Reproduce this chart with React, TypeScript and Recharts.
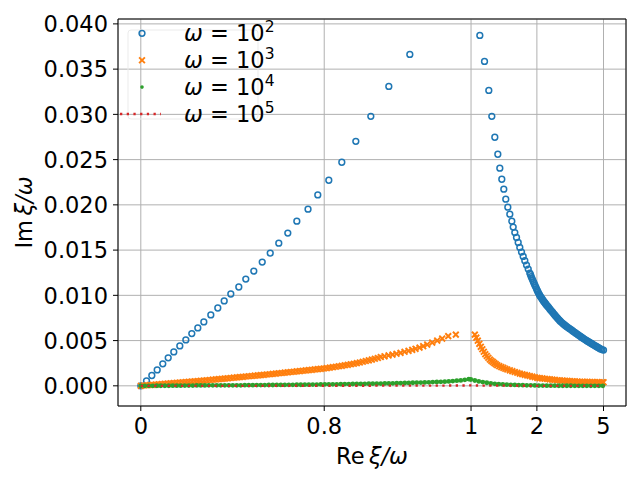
import {ComposedChart, CartesianGrid, ReferenceArea, Scatter, XAxis, YAxis} from 'recharts'

// x is the position along the (non-linear) Re ξ/ω axis: 0 → tick "0", 1 → tick "5"
const xTickPos = [0, 0.3964, 0.7137, 0.856, 1]
const xTickText = ['0', '0.8', '1', '2', '5']
const yTicks = [0, 0.005, 0.01, 0.015, 0.02, 0.025, 0.03, 0.035, 0.04]
const X_DOMAIN: [number, number] = [-0.0493, 1.0486]
const Y_DOMAIN: [number, number] = [-0.00223, 0.04054]

const seriesNames = ['2', '3', '4', '5'] // ω = 10^n

// ω = 10^2
const blueLeftX = [0, 0.0123, 0.0238, 0.0354, 0.0475, 0.0592, 0.0713, 0.0843, 0.0973, 0.1102, 0.1232, 0.1362, 0.1513, 0.1664, 0.1802, 0.1945,
    0.2118, 0.2269, 0.2442, 0.2624, 0.2797, 0.2982, 0.3177, 0.3372, 0.3614, 0.3825, 0.4063, 0.4344, 0.4647, 0.4971, 0.536, 0.5814]
const blueLeftY = [0, 0.00055, 0.00114, 0.00176, 0.00243, 0.00309, 0.00375, 0.00441, 0.00507, 0.00577, 0.0064, 0.00706, 0.00783, 0.0086, 0.00938, 0.01015,
    0.01092, 0.0118, 0.01268, 0.01368, 0.01467, 0.01577, 0.01688, 0.0182, 0.01952, 0.0211, 0.02272, 0.02471, 0.02702, 0.02978, 0.03309, 0.03662]
const blueRight: [number, number][] = [
    [0.7327, 0.03872], [0.7428, 0.03585], [0.7521, 0.03265], [0.7586, 0.02978], [0.7651, 0.02747], [0.7716, 0.02559], [0.7759, 0.02405],
    [0.7802, 0.02283], [0.7845, 0.02173], [0.7888, 0.02063], [0.7932, 0.01974], [0.7975, 0.01897], [0.8018, 0.0182], [0.8048, 0.01754],
    [0.8083, 0.01694], [0.812, 0.01639], [0.8156, 0.01584], [0.8191, 0.01529], [0.8228, 0.01478], [0.8264, 0.0143], [0.8299, 0.01382],
    [0.8336, 0.01335], [0.8373, 0.0129], [0.8407, 0.01246], [0.8422, 0.01228], [0.8438, 0.01206], [0.8455, 0.01185], [0.8471, 0.01166],
    [0.8487, 0.01147], [0.8503, 0.01128], [0.8519, 0.0111], [0.8536, 0.01091], [0.8552, 0.01072], [0.8568, 0.01054], [0.8584, 0.01037],
    [0.8601, 0.0102], [0.8617, 0.01005], [0.8633, 0.00991], [0.8649, 0.00978], [0.8666, 0.00965], [0.8682, 0.00953], [0.8698, 0.00941],
    [0.8714, 0.0093], [0.8731, 0.00919], [0.8747, 0.00908], [0.8763, 0.00897], [0.8779, 0.00887], [0.8796, 0.00877], [0.8812, 0.00867],
    [0.8834, 0.00853], [0.8855, 0.00839], [0.8877, 0.00826], [0.8898, 0.00813], [0.892, 0.00799], [0.8941, 0.00786], [0.8963, 0.00773],
    [0.8985, 0.0076], [0.9006, 0.00747], [0.9028, 0.00735], [0.905, 0.00723], [0.9071, 0.00711], [0.9098, 0.00699], [0.9125, 0.00687],
    [0.9152, 0.00676], [0.9179, 0.00665], [0.9206, 0.00654], [0.9233, 0.00644], [0.926, 0.00634], [0.9287, 0.00624], [0.9314, 0.00614],
    [0.9341, 0.00604], [0.9368, 0.00594], [0.9395, 0.00585], [0.9422, 0.00575], [0.9449, 0.00565], [0.9476, 0.00555], [0.9503, 0.00545],
    [0.953, 0.00535], [0.9557, 0.00526], [0.9584, 0.00517], [0.9611, 0.00508], [0.9638, 0.00499], [0.9665, 0.00491], [0.9692, 0.00482],
    [0.9719, 0.00473], [0.9746, 0.00465], [0.9773, 0.00457], [0.98, 0.00448], [0.9827, 0.0044], [0.9854, 0.00432], [0.9881, 0.00424],
    [0.9908, 0.00416], [0.9935, 0.00408], [0.9968, 0.00401], [1, 0.00395],
]

// ω = 10^3
const orangeLeft: [number, number][] = [
    [0, 0], [0.0065, 0.00003], [0.013, 0.00006], [0.0195, 0.00009], [0.0259, 0.00011], [0.0324, 0.00014], [0.0389, 0.00017], [0.0454, 0.0002],
    [0.0519, 0.00023], [0.0584, 0.00025], [0.0648, 0.00028], [0.0713, 0.00031], [0.0778, 0.00034], [0.0843, 0.00037], [0.0908, 0.00039],
    [0.0973, 0.00042], [0.1037, 0.00045], [0.1102, 0.00048], [0.1167, 0.0005], [0.1232, 0.00052], [0.1297, 0.00055], [0.1362, 0.00058],
    [0.1426, 0.00061], [0.1491, 0.00064], [0.1556, 0.00068], [0.1621, 0.00071], [0.1686, 0.00074], [0.1751, 0.00077], [0.1816, 0.0008],
    [0.188, 0.00083], [0.1945, 0.00087], [0.201, 0.0009], [0.2075, 0.00093], [0.214, 0.00096], [0.2205, 0.00099], [0.2269, 0.00103],
    [0.2334, 0.00106], [0.2399, 0.00109], [0.2464, 0.00112], [0.2529, 0.00115], [0.2594, 0.00118], [0.2658, 0.00121], [0.2723, 0.00125],
    [0.2788, 0.00128], [0.2853, 0.00132], [0.2918, 0.00135], [0.2983, 0.00139], [0.3047, 0.00142], [0.3112, 0.00146], [0.3177, 0.00149],
    [0.3242, 0.00153], [0.3307, 0.00156], [0.3372, 0.0016], [0.3437, 0.00163], [0.3501, 0.00167], [0.3566, 0.0017], [0.3631, 0.00174],
    [0.3696, 0.00177], [0.3761, 0.00181], [0.3826, 0.00184], [0.389, 0.00188], [0.3955, 0.00191], [0.402, 0.00196], [0.4085, 0.00201],
    [0.415, 0.00206], [0.4215, 0.00211], [0.428, 0.00216], [0.4344, 0.00221], [0.4409, 0.00227], [0.4474, 0.00232], [0.4539, 0.00238],
    [0.4604, 0.00244], [0.4669, 0.00251], [0.4733, 0.00258], [0.4798, 0.00266], [0.4863, 0.00274], [0.4928, 0.00282], [0.4993, 0.0029],
    [0.5058, 0.00299], [0.5123, 0.00308], [0.5187, 0.00318], [0.5267, 0.00326], [0.5354, 0.00336], [0.544, 0.00345], [0.5526, 0.00354],
    [0.5613, 0.00364], [0.57, 0.00376], [0.5786, 0.00387], [0.5866, 0.00398], [0.5937, 0.00409], [0.6024, 0.00422], [0.6103, 0.00438],
    [0.619, 0.00456], [0.6298, 0.00478], [0.6406, 0.005], [0.6514, 0.00522], [0.6644, 0.00549], [0.6808, 0.00566],
]
const orangeRight: [number, number][] = [
    [0.7219, 0.00566], [0.7251, 0.00532], [0.7283, 0.00499], [0.7316, 0.00464], [0.7348, 0.00431], [0.7381, 0.00404], [0.7413, 0.00376],
    [0.7445, 0.0035], [0.7478, 0.00329], [0.751, 0.0031], [0.7543, 0.00291], [0.7575, 0.00276], [0.7608, 0.00264], [0.764, 0.00251],
    [0.7672, 0.00239], [0.7705, 0.00227], [0.7748, 0.00217], [0.7791, 0.00207], [0.7835, 0.00199], [0.7878, 0.00189], [0.7921, 0.0018],
    [0.7975, 0.00171], [0.8029, 0.00162], [0.8083, 0.00153], [0.8137, 0.00144], [0.8191, 0.00135], [0.8245, 0.00128], [0.8299, 0.00121],
    [0.8353, 0.00115], [0.8407, 0.00108], [0.8461, 0.00101], [0.8515, 0.00095], [0.8569, 0.00088], [0.8623, 0.00085], [0.8677, 0.00082],
    [0.8731, 0.00078], [0.8785, 0.00075], [0.8839, 0.00072], [0.8893, 0.00068], [0.8947, 0.00065], [0.9001, 0.00062], [0.9055, 0.0006],
    [0.9109, 0.00058], [0.9164, 0.00056], [0.9218, 0.00054], [0.9272, 0.00052], [0.9326, 0.00051], [0.938, 0.00049], [0.9434, 0.00046],
    [0.9488, 0.00044], [0.9542, 0.00044], [0.9596, 0.00043], [0.965, 0.00043], [0.9704, 0.00042], [0.9758, 0.00042], [0.9812, 0.00041],
    [0.9866, 0.00041], [0.992, 0.0004], [0.9974, 0.0004], [1, 0.0004],
]

// ω = 10^4
const greenLeft: [number, number][] = [
    [0, 0], [0.0086, 0], [0.0173, 0], [0.0259, 0], [0.0346, 0.00001], [0.0432, 0.00001], [0.0519, 0.00001], [0.0605, 0.00001],
    [0.0692, 0.00002], [0.0778, 0.00002], [0.0864, 0.00002], [0.0951, 0.00003], [0.1037, 0.00003], [0.1124, 0.00003], [0.121, 0.00004],
    [0.1297, 0.00004], [0.1383, 0.00004], [0.147, 0.00005], [0.1556, 0.00005], [0.1643, 0.00005], [0.1729, 0.00005], [0.1815, 0.00005],
    [0.1902, 0.00006], [0.1988, 0.00006], [0.2075, 0.00006], [0.2161, 0.00006], [0.2248, 0.00007], [0.2334, 0.00007], [0.2421, 0.00007],
    [0.2507, 0.00008], [0.2594, 0.00008], [0.268, 0.00008], [0.2766, 0.00009], [0.2853, 0.00009], [0.2939, 0.0001], [0.3026, 0.0001],
    [0.3112, 0.0001], [0.3199, 0.00011], [0.3285, 0.00011], [0.3372, 0.00012], [0.3458, 0.00012], [0.3545, 0.00013], [0.3631, 0.00013],
    [0.3717, 0.00014], [0.3804, 0.00014], [0.389, 0.00015], [0.3977, 0.00016], [0.4063, 0.00016], [0.415, 0.00017], [0.4236, 0.00017],
    [0.4323, 0.00018], [0.4409, 0.00019], [0.4496, 0.00019], [0.4582, 0.0002], [0.4668, 0.0002], [0.4755, 0.00021], [0.4841, 0.00022],
    [0.4928, 0.00023], [0.5014, 0.00024], [0.5101, 0.00024], [0.5187, 0.00025], [0.5274, 0.00026], [0.536, 0.00027], [0.5447, 0.00028],
    [0.5533, 0.00029], [0.5619, 0.0003], [0.5706, 0.00031], [0.5792, 0.00032], [0.5879, 0.00034], [0.5965, 0.00035], [0.6052, 0.00036],
    [0.6138, 0.00038], [0.6225, 0.00039], [0.6311, 0.00041], [0.6398, 0.00042], [0.6484, 0.00044], [0.657, 0.00046], [0.6657, 0.00049],
    [0.6743, 0.00053], [0.683, 0.00057], [0.6916, 0.0006], [0.7003, 0.00066], [0.7089, 0.00074],
]
const greenRight: [number, number][] = [
    [0.7132, 0.0007], [0.7219, 0.00059], [0.7305, 0.00049], [0.7391, 0.00041], [0.7478, 0.00034], [0.7564, 0.00026], [0.7651, 0.00022],
    [0.7737, 0.00018], [0.7824, 0.00015], [0.791, 0.00013], [0.7997, 0.00011], [0.8083, 0.0001], [0.8169, 0.00008], [0.8256, 0.00007],
    [0.8342, 0.00006], [0.8429, 0.00005], [0.8515, 0.00004], [0.8602, 0.00003], [0.8688, 0.00003], [0.8775, 0.00002], [0.8861, 0.00002],
    [0.8947, 0.00002], [0.9034, 0.00001], [0.912, 0.00001], [0.9207, 0.00001], [0.9293, 0.00001], [0.938, 0], [0.9466, 0], [0.9553, 0],
    [0.9639, 0], [0.9726, 0], [0.9812, 0], [0.9899, 0], [0.9985, 0],
]

// ω = 10^5
const redLine: [number, number][] = [[0, 0], [0.5, 0.00001], [0.7137, 0.00004], [0.85, 0], [1, 0]]

const BLUE = '#1f77b4'
const ORANGE = '#ff7f0e'
const GREEN = '#2ca02c'
const RED = '#d62728'
const FONT = '"DejaVu Sans", sans-serif'
const FS = 22.5

const toPts = (t: [number, number][]) => t.map(([x, y]) => ({x, y}))
const bluePts = [...blueLeftX.map((x, i) => ({x, y: blueLeftY[i]})), ...toPts(blueRight)]
const orangePts = [...toPts(orangeLeft), ...toPts(orangeRight)]
const greenPts = [...toPts(greenLeft), ...toPts(greenRight)]
const redPts = toPts(redLine)

const OpenCircle = (p: any) => <circle cx={p.cx} cy={p.cy} r={2.9} fill="none" stroke={BLUE} strokeWidth={1.5}/>
const Cross = (p: any) => {
    const s = 2.9
    return <path d={`M${p.cx - s},${p.cy - s}L${p.cx + s},${p.cy + s}M${p.cx - s},${p.cy + s}L${p.cx + s},${p.cy - s}`}
                 stroke={ORANGE} strokeWidth={1.9} fill="none"/>
}
const SmallDot = (p: any) => <circle cx={p.cx} cy={p.cy} r={2.4} fill={GREEN}/>
const NoShape = () => <g/>

const XTick = (p: any) => {
    const i = xTickPos.indexOf(p.payload.value)
    return <text x={p.x} y={p.y + 21} textAnchor="middle" fontFamily={FONT} fontSize={FS} fill="#000">{xTickText[i]}</text>
}
const YTick = (p: any) => (
    <text x={p.x - 3} y={p.y + 8.2} textAnchor="end" fontFamily={FONT} fontSize={FS} fill="#000">
        {Number(p.payload.value).toFixed(3)}
    </text>
)

const xLabel = (p: any) => {
    const vb = p.viewBox
    return (
        <text x={vb.x + vb.width / 2} y={vb.y + 58} textAnchor="middle" fontFamily={FONT} fontSize={FS} fill="#000">
            Re<tspan fontStyle="italic">{'\u2009ξ/ω'}</tspan>
        </text>
    )
}
const yLabel = (p: any) => {
    const vb = p.viewBox
    const cx = vb.x + 31.5
    const cy = vb.y + vb.height / 2
    return (
        <text x={cx} y={cy} transform={`rotate(-90 ${cx} ${cy})`} textAnchor="middle" fontFamily={FONT} fontSize={FS} fill="#000">
            Im<tspan fontStyle="italic">{'\u2009ξ/ω'}</tspan>
        </text>
    )
}

function LegendOverlay() {
    const rows = [33.3, 60.2, 87.1, 114]
    const mx = 142
    return (
        <svg width={640} height={480} style={{position: 'absolute', left: 0, top: 0, pointerEvents: 'none'}}>
            <rect x={128} y={30} width={130} height={89} rx={3} fill="none" stroke="#ebebeb" strokeWidth={1}/>
            <OpenCircle cx={mx} cy={rows[0]}/>
            <Cross cx={mx} cy={rows[1]}/>
            <circle cx={mx} cy={rows[2]} r={1.8} fill={GREEN}/>
            <line x1={120} x2={161} y1={rows[3]} y2={rows[3]} stroke={RED} strokeWidth={2.3} strokeDasharray="2.3 4.4"/>
            {seriesNames.map((n, i) => (
                <text key={n} x={184} y={rows[i] + 7.6} fontFamily={FONT} fontSize={FS} fill="#000">
                    <tspan fontStyle="italic">ω</tspan>{' = 10'}<tspan dy={-8.5} fontSize={15.5}>{n}</tspan>
                </text>
            ))}
        </svg>
    )
}

export default function App() {
    return (
        <div style={{position: 'absolute', left: 0, top: 0, width: 640, height: 480, background: '#fff'}}>
            <ComposedChart width={640} height={480} margin={{top: 19, right: 14, bottom: 0, left: 0}}>
                <CartesianGrid stroke="#b0b0b0" strokeWidth={1}/>
                <XAxis type="number" dataKey="x" domain={X_DOMAIN} ticks={xTickPos} allowDataOverflow interval={0}
                       height={74} tickSize={5} tick={<XTick/>} axisLine={false}
                       tickLine={{stroke: '#000', strokeWidth: 1}} label={xLabel}/>
                <YAxis type="number" dataKey="y" domain={Y_DOMAIN} ticks={yTicks} allowDataOverflow interval={0}
                       width={118} tickSize={5} tick={<YTick/>} axisLine={false}
                       tickLine={{stroke: '#000', strokeWidth: 1}} label={yLabel}/>
                <Scatter data={bluePts} shape={OpenCircle} isAnimationActive={false}/>
                <Scatter data={orangePts} shape={Cross} isAnimationActive={false}/>
                <Scatter data={greenPts} shape={SmallDot} isAnimationActive={false}/>
                <Scatter data={redPts} shape={NoShape} isAnimationActive={false}
                         line={{stroke: RED, strokeWidth: 2.3, strokeDasharray: '2.3 4.4'}}/>
                <ReferenceArea x1={X_DOMAIN[0]} x2={X_DOMAIN[1]} y1={Y_DOMAIN[0]} y2={Y_DOMAIN[1]}
                               fill="none" stroke="#000" strokeWidth={1} ifOverflow="visible"/>
            </ComposedChart>
            <LegendOverlay/>
        </div>
    )
}
